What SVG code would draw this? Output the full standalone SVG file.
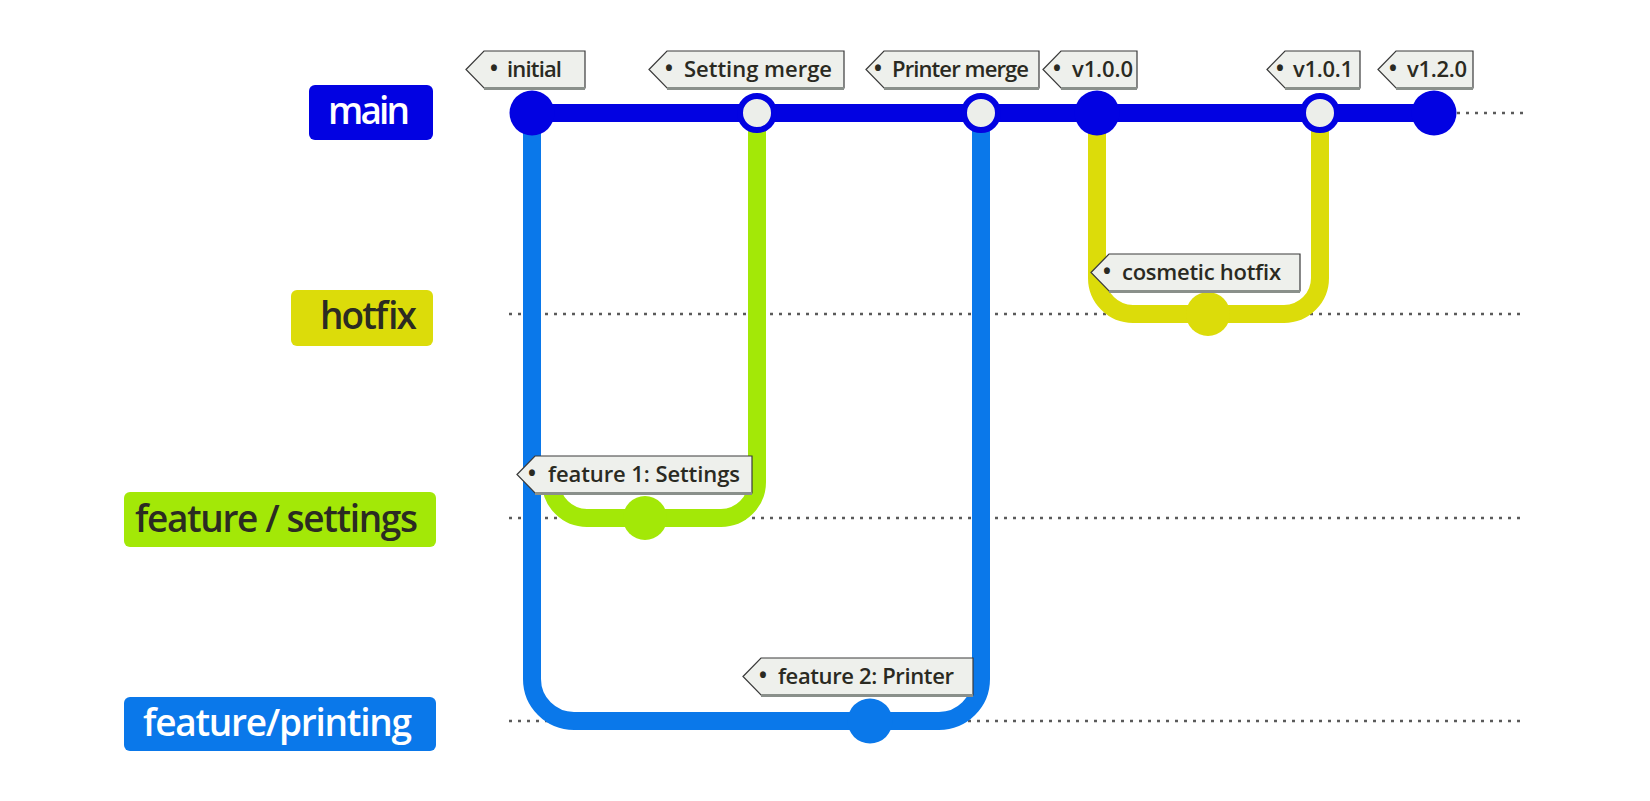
<svg xmlns="http://www.w3.org/2000/svg" width="1650" height="801" viewBox="0 0 1650 801">
<style>
.bg{fill:#ffffff}
.dot{stroke:#5a5a5a;stroke-width:2.5;stroke-dasharray:3 6;fill:none}
.br{fill:none;stroke-width:18;stroke-linecap:butt;stroke-linejoin:round}
.lbl{font-family:"Open Sans","Noto Sans","Liberation Sans",sans-serif;font-weight:600;font-size:37px}
.tag{fill:#eef0ec;stroke:#3a3a3a;stroke-width:1.2}
.tagsh{stroke:#8a908b;stroke-width:3}
.tt{font-family:"Open Sans","Noto Sans","Liberation Sans",sans-serif;font-weight:600;font-size:22px;fill:#2a2a22}
.bu{font-family:"Open Sans","Noto Sans","Liberation Sans",sans-serif;font-weight:700;font-size:21px;fill:#2a2a22;text-anchor:middle}
.hollow{fill:#eceeea;stroke:#0202e2;stroke-width:6}
</style>
<rect class="bg" x="0" y="0" width="1650" height="801"/>

<g id="guides">
<line class="dot" x1="1457" y1="113" x2="1523" y2="113"/>
<line class="dot" x1="509" y1="314" x2="1523" y2="314"/>
<line class="dot" x1="509" y1="518" x2="1523" y2="518"/>
<line class="dot" x1="509" y1="721" x2="1523" y2="721"/>
</g>

<g id="connectors">
<path class="br" stroke="#0a78ea" d="M532,113 V679 A42,42 0 0 0 574,721 H939 A42,42 0 0 0 981,679 V113"/>
<path class="br" stroke="#a3e807" d="M551,470 V482 A36,36 0 0 0 587,518 H721 A36,36 0 0 0 757,482 V113"/>
<path class="br" stroke="#dcdc0a" d="M1097,113 V278 A36,36 0 0 0 1133,314 H1284 A36,36 0 0 0 1320,278 V113"/>
<path class="br" stroke="#0202e2" d="M532,113 H1434"/>
</g>

<g id="label-main">
<rect x="309" y="85" width="124" height="55" rx="6" fill="#0202e2"/>
<text class="lbl" x="328" y="124" fill="#ffffff" textLength="82">main</text>
</g>
<g id="label-hotfix">
<rect x="291" y="290" width="142" height="56" rx="6" fill="#dcdc0a"/>
<text class="lbl" x="320" y="329" fill="#2b2b22" textLength="97">hotfix</text>
</g>
<g id="label-settings">
<rect x="124" y="492" width="312" height="55" rx="6" fill="#a3e807"/>
<text class="lbl" x="135" y="532" fill="#2b2b22" textLength="283">feature / settings</text>
</g>
<g id="label-printing">
<rect x="124" y="697" width="312" height="54" rx="6" fill="#0a78ea"/>
<text class="lbl" x="143" y="736" fill="#ffffff" textLength="269">feature/printing</text>
</g>

<g id="commit-initial"><circle cx="532" cy="113" r="22.5" fill="#0202e2"/></g>
<g id="commit-setting-merge"><circle class="hollow" cx="757" cy="113" r="17"/></g>
<g id="commit-printer-merge"><circle class="hollow" cx="981" cy="113" r="17"/></g>
<g id="commit-v100"><circle cx="1097" cy="113" r="22.5" fill="#0202e2"/></g>
<g id="commit-v101"><circle class="hollow" cx="1320" cy="113" r="17"/></g>
<g id="commit-v120"><circle cx="1434" cy="113" r="22.5" fill="#0202e2"/></g>
<g id="commit-hotfix"><circle cx="1208" cy="314" r="22" fill="#dcdc0a"/></g>
<g id="commit-settings"><circle cx="645" cy="518" r="22" fill="#a3e807"/></g>
<g id="commit-printing"><circle cx="870" cy="721" r="22.5" fill="#0a78ea"/></g>

<g id="tag-initial">
<polygon class="tag" points="466,69.5 484,51 585,51 585,88 484,88"/>
<line class="tagsh" x1="484" y1="88.5" x2="585" y2="88.5"/>
<text class="bu" x="494" y="76">•</text>
<text class="tt" x="507" y="77" textLength="55">initial</text>
</g>
<g id="tag-setting-merge">
<polygon class="tag" points="649,69.5 667,51 844,51 844,88 667,88"/>
<line class="tagsh" x1="667" y1="88.5" x2="844" y2="88.5"/>
<text class="bu" x="669" y="76">•</text>
<text class="tt" x="684" y="77" textLength="148">Setting merge</text>
</g>
<g id="tag-printer-merge">
<polygon class="tag" points="866,69.5 884,51 1039,51 1039,88 884,88"/>
<line class="tagsh" x1="884" y1="88.5" x2="1039" y2="88.5"/>
<text class="bu" x="878" y="76">•</text>
<text class="tt" x="892" y="77" textLength="137">Printer merge</text>
</g>
<g id="tag-v100">
<polygon class="tag" points="1043,69.5 1061,51 1137,51 1137,88 1061,88"/>
<line class="tagsh" x1="1061" y1="88.5" x2="1137" y2="88.5"/>
<text class="bu" x="1057" y="76">•</text>
<text class="tt" x="1072" y="77" textLength="61">v1.0.0</text>
</g>
<g id="tag-v101">
<polygon class="tag" points="1267,69.5 1285,51 1360,51 1360,88 1285,88"/>
<line class="tagsh" x1="1285" y1="88.5" x2="1360" y2="88.5"/>
<text class="bu" x="1280" y="76">•</text>
<text class="tt" x="1293" y="77" textLength="60">v1.0.1</text>
</g>
<g id="tag-v120">
<polygon class="tag" points="1378,69.5 1396,51 1473,51 1473,88 1396,88"/>
<line class="tagsh" x1="1396" y1="88.5" x2="1473" y2="88.5"/>
<text class="bu" x="1393" y="76">•</text>
<text class="tt" x="1407" y="77" textLength="60">v1.2.0</text>
</g>
<g id="tag-cosmetic-hotfix">
<polygon class="tag" points="1091,272.5 1109,254 1300,254 1300,291 1109,291"/>
<line class="tagsh" x1="1109" y1="291.5" x2="1300" y2="291.5"/>
<text class="bu" x="1107" y="279">•</text>
<text class="tt" x="1122" y="280" textLength="159">cosmetic hotfix</text>
</g>
<g id="tag-feature1">
<polygon class="tag" points="517,474.5 535,456 752,456 752,493 535,493"/>
<line class="tagsh" x1="535" y1="493.5" x2="752" y2="493.5"/>
<text class="bu" x="532" y="481">•</text>
<text class="tt" x="548" y="482" textLength="192">feature 1: Settings</text>
</g>
<g id="tag-feature2">
<polygon class="tag" points="743,676.5 761,658 973,658 973,695 761,695"/>
<line class="tagsh" x1="761" y1="695.5" x2="973" y2="695.5"/>
<text class="bu" x="763" y="683">•</text>
<text class="tt" x="778" y="684" textLength="176">feature 2: Printer</text>
</g>
</svg>
